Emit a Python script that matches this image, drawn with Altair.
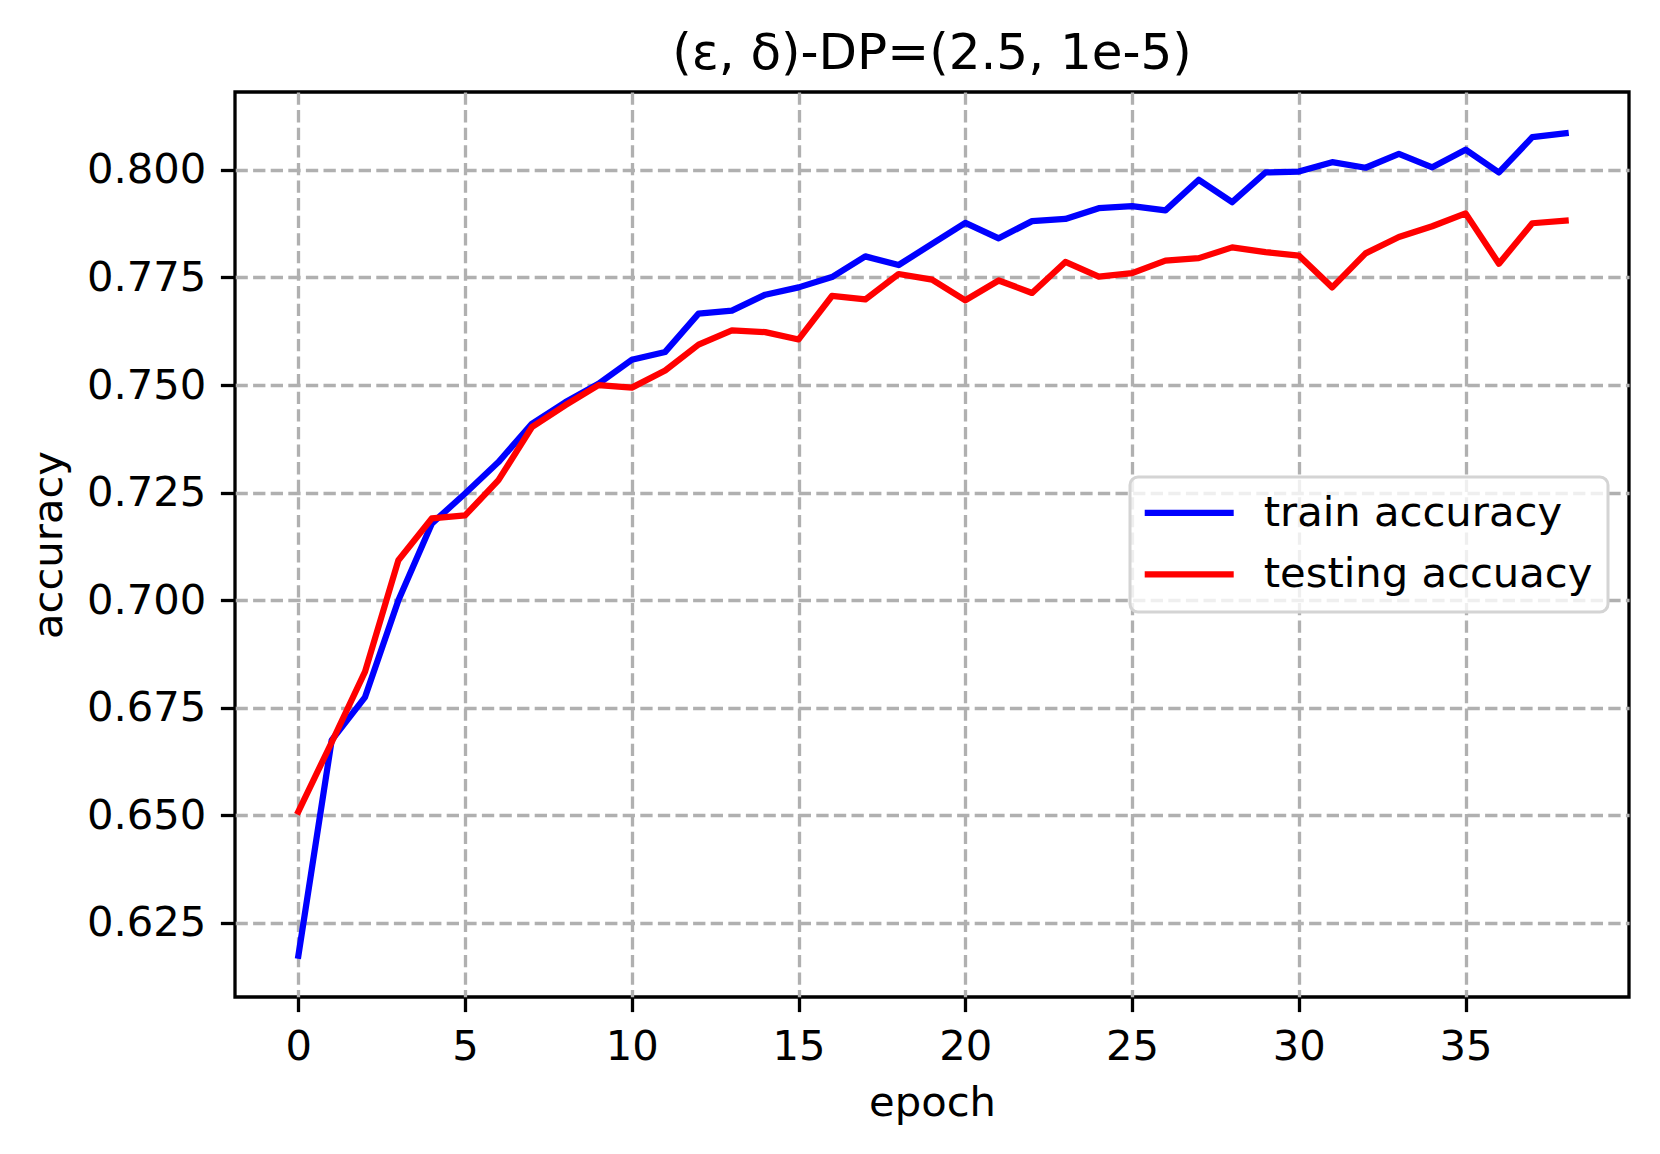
import altair as alt
import pandas as pd

epochs = list(range(39))
train_acc = [0.6174, 0.6675, 0.6775, 0.7000, 0.7178, 0.7248, 0.7321, 0.7410, 0.7460, 0.7503,
             0.7559, 0.7577, 0.7666, 0.7673, 0.7710, 0.7727, 0.7751, 0.7799, 0.7779, 0.7828,
             0.7877, 0.7841, 0.7881, 0.7886, 0.7911, 0.7916, 0.7906, 0.7977, 0.7925, 0.7994,
             0.7996, 0.8018, 0.8005, 0.8037, 0.8006, 0.8047, 0.7994, 0.8076, 0.8085]
test_acc = [0.6509, 0.6670, 0.6834, 0.7093, 0.7190, 0.7197, 0.7279, 0.7402, 0.7453, 0.7500,
            0.7494, 0.7534, 0.7594, 0.7627, 0.7623, 0.7606, 0.7707, 0.7699, 0.7758, 0.7745,
            0.7697, 0.7743, 0.7714, 0.7786, 0.7752, 0.7760, 0.7789, 0.7795, 0.7820, 0.7809,
            0.7801, 0.7727, 0.7806, 0.7844, 0.7869, 0.7899, 0.7782, 0.7876, 0.7882]
series_names = ["train accuracy", "testing accuacy"]
series_colors = ["#0000ff", "#ff0000"]
x_ticks = [0, 5, 10, 15, 20, 25, 30, 35]
y_ticks = [0.625, 0.650, 0.675, 0.700, 0.725, 0.750, 0.775, 0.800]

df_train = pd.DataFrame({"epoch": epochs, "accuracy": train_acc, "series": series_names[0]})
df_test = pd.DataFrame({"epoch": epochs, "accuracy": test_acc, "series": series_names[1]})

FONT = "DejaVu Sans"
W, H = 1394, 905
LW = 6.25

x_enc = alt.X("epoch:Q",
              scale=alt.Scale(domain=[-1.9, 39.9], nice=False, zero=False),
              axis=alt.Axis(values=x_ticks, title="epoch", titleX=W / 2, titleY=118,
                            titleBaseline="alphabetic", titleAlign="center"))
y_enc = alt.Y("accuracy:Q",
              scale=alt.Scale(domain=[0.6078, 0.8181], nice=False, zero=False),
              axis=alt.Axis(values=y_ticks, format=".3f", title="accuracy",
                            titleX=-173.5, titleY=H / 2, titleAngle=270,
                            titleBaseline="alphabetic", titleAlign="center"))
color_enc = alt.Color("series:N",
                      scale=alt.Scale(domain=series_names, range=series_colors),
                      legend=alt.Legend(title=None, orient="none", legendX=895, legendY=385,
                                        symbolType="M-1.9,0H6.1", symbolSize=495,
                                        symbolStrokeWidth=LW, labelFont=FONT,
                                        labelFontSize=41.7, labelColor="black", labelLimit=1000,
                                        labelOffset=77, padding=15, rowPadding=18.5,
                                        fillColor="rgba(255,255,255,0.8)",
                                        strokeColor="#d4d4d4", cornerRadius=8))

line_train = alt.Chart(df_train).mark_line(strokeWidth=LW, strokeCap="square", strokeJoin="round").encode(
    x=x_enc, y=y_enc, color=color_enc)
line_test = alt.Chart(df_test).mark_line(strokeWidth=LW, strokeCap="square", strokeJoin="round").encode(
    x=x_enc, y=y_enc, color=color_enc)

chart = alt.layer(line_train, line_test).properties(
    width=W, height=H,
    background="white",
    title=alt.TitleParams("(ε, δ)-DP=(2.5, 1e-5)", font=FONT, fontSize=50, fontWeight="normal",
                          color="black", anchor="middle", baseline="alphabetic", offset=-27),
    autosize=alt.AutoSizeParams(type="none"),
    padding={"left": 227, "top": 84, "right": 23, "bottom": 149},
).configure_view(
    stroke="black", strokeWidth=3.3
).configure_axis(
    domain=False, tickColor="black", tickSize=14.6, tickWidth=3.3,
    labelFont=FONT, labelFontSize=41.7, labelColor="black", labelPadding=14.6,
    titleFont=FONT, titleFontSize=41.7, titleColor="black", titleFontWeight="normal",
    grid=True, gridColor="#b0b0b0", gridDash=[12.3, 5.3], gridWidth=3.3
).configure_legend(
    strokeWidth=3
)

chart.save("out.html", embed_options={"renderer": "svg", "actions": False})
